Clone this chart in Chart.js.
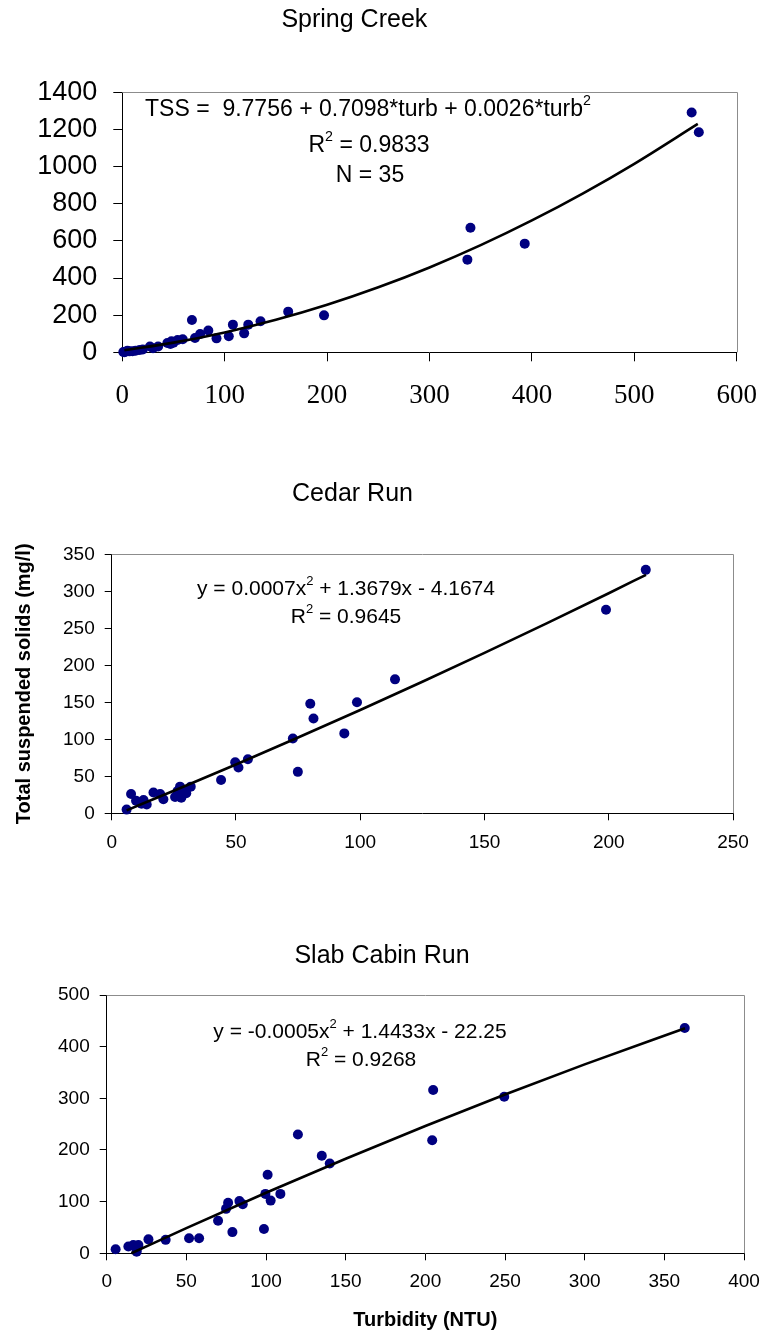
<!DOCTYPE html>
<html><head><meta charset="utf-8">
<script src="https://cdn.jsdelivr.net/npm/chart.js@4.4.0/dist/chart.umd.min.js"></script>
<style>
html,body{margin:0;padding:0;background:#fff;width:768px;height:1334px;overflow:hidden;position:relative}
canvas{position:absolute}
</style></head><body>
<canvas id="c1"></canvas><canvas id="c2"></canvas><canvas id="c3"></canvas>
<script>
// ---------- Spring Creek ----------
const springTitle = "Spring Creek";
const springTurb = [556, 563, 340, 337, 393, 197, 162, 135, 123, 119, 108, 104, 92, 84, 76, 71, 68, 59, 54, 50, 48, 47, 35, 27, 17, 13, 10, 7, 5, 3, 2, 1, 20, 30, 44];
const springTSS  = [1291, 1185, 671, 499, 585, 199, 219, 167, 149, 102, 149, 86, 75, 117, 99, 77, 174, 70, 66, 52, 59, 45, 31, 31, 13, 9, 6, 5, 8, 3, 0, 2, 15, 22, 50];
const springFitTurb = [2, 50, 100, 150, 200, 250, 300, 350, 400, 450, 500, 562];
const springFitTSS  = [11, 52, 107, 175, 256, 350, 457, 577, 710, 856, 1015, 1230];
const springXTicks = [0, 600, 100];   // min, max, step
const springYTicks = [0, 1400, 200];
const springEq = "TSS =  9.7756 + 0.7098*turb + 0.0026*turb";
const springR2 = " = 0.9833";
const springN = "N = 35";

// ---------- Cedar Run ----------
const cedarTitle = "Cedar Run";
const cedarTurb = [6.0, 7.8, 9.8, 12.8, 14.1, 12.0, 16.8, 19.5, 20.8, 25.5, 26.5, 27.5, 28.0, 29.5, 30.0, 31.8, 44.0, 49.7, 51.0, 54.8, 72.9, 74.9, 79.9, 81.2, 93.6, 98.7, 114.0, 198.9, 214.9];
const cedarTSS  = [5, 26, 17, 18, 12, 13, 28, 26, 19, 22, 30, 36, 21, 31, 27, 36, 45, 69, 62, 73, 101, 56, 148, 128, 108, 150, 181, 275, 329];
const cedarFitTurb = [6, 25, 50, 75, 100, 125, 150, 175, 200, 215];
const cedarFitTSS  = [4, 30.5, 66, 102.4, 139.6, 177.8, 216.8, 256.7, 297.4, 322.3];
const cedarXTicks = [0, 250, 50];
const cedarYTicks = [0, 350, 50];
const cedarEq = ["y = 0.0007x", "2", " + 1.3679x - 4.1674"];
const cedarR2 = " = 0.9645";
const yAxisTitle = "Total suspended solids (mg/l)";

// ---------- Slab Cabin Run ----------
const slabTitle = "Slab Cabin Run";
const slabTurb = [5.6, 13.6, 16.7, 18.8, 18.8, 19.9, 26.2, 37, 51.7, 58, 69.9, 74.9, 76.2, 78.9, 83.3, 85.4, 98.7, 99.6, 101, 102.9, 109, 120, 135, 140, 204.3, 204.9, 249.5, 362.8];
const slabTSS  = [8, 13, 16, 7, 3, 16, 27, 26, 29, 29, 63, 86, 98, 41, 101, 95, 47, 115, 152, 102, 115, 230, 189, 174, 219, 316, 303, 436];
const slabFitTurb = [15.5, 50, 100, 150, 200, 250, 300, 363];
const slabFitTSS  = [0, 48.7, 117.1, 183, 246.4, 307.3, 365.7, 435.8];
const slabXTicks = [0, 400, 50];
const slabYTicks = [0, 500, 100];
const slabEq = ["y = -0.0005x", "2", " + 1.4433x - 22.25"];
const slabR2 = " = 0.9268";
const xAxisTitle = "Turbidity (NTU)";

const SANS = '"Liberation Sans", Arial, Helvetica, sans-serif';
const SERIF = '"Liberation Serif", "Times New Roman", Times, serif';

function pts(xs, ys){ return xs.map((x,i)=>({x:x, y:ys[i]})); }

function drawRich(ctx, parts, cx, by, size){
  let total = 0; const ms = [];
  for (const p of parts){
    const s = p.sup ? size*0.62 : size;
    ctx.font = s + 'px ' + SANS;
    const w = ctx.measureText(p.t).width;
    ms.push([s,w]); total += w;
  }
  let x = cx - total/2;
  ctx.save();
  ctx.fillStyle = '#000'; ctx.textBaseline = 'alphabetic'; ctx.textAlign = 'left';
  parts.forEach((p,i)=>{
    ctx.font = ms[i][0] + 'px ' + SANS;
    ctx.fillText(p.t, x, p.sup ? by - size*0.48 : by);
    x += ms[i][1];
  });
  ctx.restore();
}

const framePlugin = {
  id: 'frame',
  beforeDatasetsDraw(chart){
    const {left, top, right, bottom} = chart.chartArea;
    const ctx = chart.ctx;
    ctx.save();
    ctx.strokeStyle = '#8c8c8c'; ctx.lineWidth = 1;
    ctx.beginPath();
    ctx.moveTo(left, Math.round(top)+0.5);
    ctx.lineTo(Math.round(right)+0.5, Math.round(top)+0.5);
    ctx.lineTo(Math.round(right)+0.5, bottom);
    ctx.stroke();
    ctx.restore();
  }
};

const annotPlugin = {
  id: 'annot',
  afterDatasetsDraw(chart, args, opts){
    const ctx = chart.ctx;
    for (const ln of (opts.lines || [])){
      drawRich(ctx, ln.parts, ln.cx - opts.L, ln.by - opts.T, ln.size);
    }
  }
};

function build(o){
  const cv = document.getElementById(o.id);
  cv.width = o.W; cv.height = o.H;
  cv.style.left = o.L + 'px'; cv.style.top = o.T + 'px';
  cv.style.width = o.W + 'px'; cv.style.height = o.H + 'px';
  const relLeft = o.plot.left - o.L, relTop = o.plot.top - o.T;
  const relRight = o.plot.right - o.L, relBottom = o.plot.bottom - o.T;
  const tLH = o.titleSize * 1.2;
  const tPadTop = (o.titleCY - o.T) - tLH/2;
  const tPadBottom = relTop - tPadTop - tLH;

  const xScale = {
    type: 'linear', position: 'bottom',
    min: o.xTicks[0], max: o.xTicks[1],
    ticks: {stepSize: o.xTicks[2], callback: v => String(v), color: '#000',
            font: o.xFont, padding: o.xPad, maxRotation: 0, autoSkip: false},
    grid: {drawOnChartArea: false, drawTicks: true, tickLength: o.tick, color: '#000', lineWidth: 1},
    border: {display: true, color: '#000', width: 1},
    afterFit(s){ s.height = o.H - relBottom; s.paddingLeft = 0; s.paddingRight = 0; }
  };
  if (o.xTitle) xScale.title = o.xTitle;
  const yScale = {
    type: 'linear', position: 'left',
    min: o.yTicks[0], max: o.yTicks[1],
    ticks: {stepSize: o.yTicks[2], callback: v => String(v), color: '#000',
            font: o.yFont, padding: o.yPad, autoSkip: false},
    grid: {drawOnChartArea: false, drawTicks: true, tickLength: o.tick, color: '#000', lineWidth: 1},
    border: {display: true, color: '#000', width: 1},
    afterFit(s){ s.width = relLeft; s.paddingTop = 0; s.paddingBottom = 0; }
  };
  if (o.yTitle) yScale.title = o.yTitle;

  return new Chart(cv, {
    type: 'scatter',
    data: {datasets: [
      {label: 'fit', data: pts(o.fitX, o.fitY), showLine: true, borderColor: '#000', borderWidth: 2.6,
       pointRadius: 0, fill: false, cubicInterpolationMode: 'monotone', clip: false},
      {label: 'obs', data: pts(o.x, o.y), backgroundColor: '#000080', borderColor: '#000080',
       borderWidth: 0, pointRadius: 5, clip: false}
    ]},
    options: {
      responsive: false, animation: false, devicePixelRatio: 1,
      layout: {padding: {left: 0, top: 0, right: o.W - relRight, bottom: 0}},
      plugins: {
        legend: {display: false}, tooltip: {enabled: false},
        title: {display: true, text: o.title, color: '#000',
                font: {family: SANS, size: o.titleSize, weight: 'normal', lineHeight: 1.2},
                padding: {top: tPadTop, bottom: tPadBottom}},
        annot: {lines: o.annot, L: o.L, T: o.T}
      },
      scales: {x: xScale, y: yScale}
    },
    plugins: [framePlugin, annotPlugin]
  });
}

build({
  id: 'c1', L: -28, T: 0, W: 796, H: 420,
  plot: {left: 122.3, top: 92.3, right: 736.7, bottom: 352.3},
  title: springTitle, titleSize: 25, titleCY: 20.5,
  x: springTurb, y: springTSS, fitX: springFitTurb, fitY: springFitTSS,
  xTicks: springXTicks, yTicks: springYTicks, tick: 9,
  xFont: {family: SERIF, size: 27}, xPad: 18.5,
  yFont: {family: SANS, size: 27}, yPad: 16,
  annot: [
    {parts: [{t: springEq}, {t: '2', sup: true}], cx: 368, by: 116, size: 23},
    {parts: [{t: 'R'}, {t: '2', sup: true}, {t: springR2}], cx: 369, by: 152, size: 23},
    {parts: [{t: springN}], cx: 370, by: 182, size: 23}
  ]
});

build({
  id: 'c2', L: -28, T: 460, W: 796, H: 410,
  plot: {left: 111.7, top: 554.3, right: 733, bottom: 813.3},
  title: cedarTitle, titleSize: 25, titleCY: 494,
  x: cedarTurb, y: cedarTSS, fitX: cedarFitTurb, fitY: cedarFitTSS,
  xTicks: cedarXTicks, yTicks: cedarYTicks, tick: 7,
  xFont: {family: SANS, size: 19}, xPad: 11.3,
  yFont: {family: SANS, size: 19}, yPad: 10,
  yTitle: {display: true, text: yAxisTitle, color: '#000',
           font: {family: SANS, size: 20, weight: 'bold', lineHeight: 1.2}, padding: {top: 40, bottom: 0}},
  annot: [
    {parts: [{t: cedarEq[0]}, {t: cedarEq[1], sup: true}, {t: cedarEq[2]}], cx: 346, by: 595, size: 21},
    {parts: [{t: 'R'}, {t: '2', sup: true}, {t: cedarR2}], cx: 346, by: 623, size: 21}
  ]
});

build({
  id: 'c3', L: 20, T: 900, W: 748, H: 434,
  plot: {left: 106.7, top: 995, right: 744, bottom: 1253.3},
  title: slabTitle, titleSize: 25, titleCY: 956,
  x: slabTurb, y: slabTSS, fitX: slabFitTurb, fitY: slabFitTSS,
  xTicks: slabXTicks, yTicks: slabYTicks, tick: 7,
  xFont: {family: SANS, size: 19}, xPad: 10.3,
  yFont: {family: SANS, size: 19}, yPad: 10,
  xTitle: {display: true, text: xAxisTitle, color: '#000',
           font: {family: SANS, size: 20, weight: 'bold', lineHeight: 1.2}, padding: {top: 0, bottom: 2}},
  annot: [
    {parts: [{t: slabEq[0]}, {t: slabEq[1], sup: true}, {t: slabEq[2]}], cx: 360, by: 1038, size: 21},
    {parts: [{t: 'R'}, {t: '2', sup: true}, {t: slabR2}], cx: 361, by: 1066, size: 21}
  ]
});
</script>
</body></html>
